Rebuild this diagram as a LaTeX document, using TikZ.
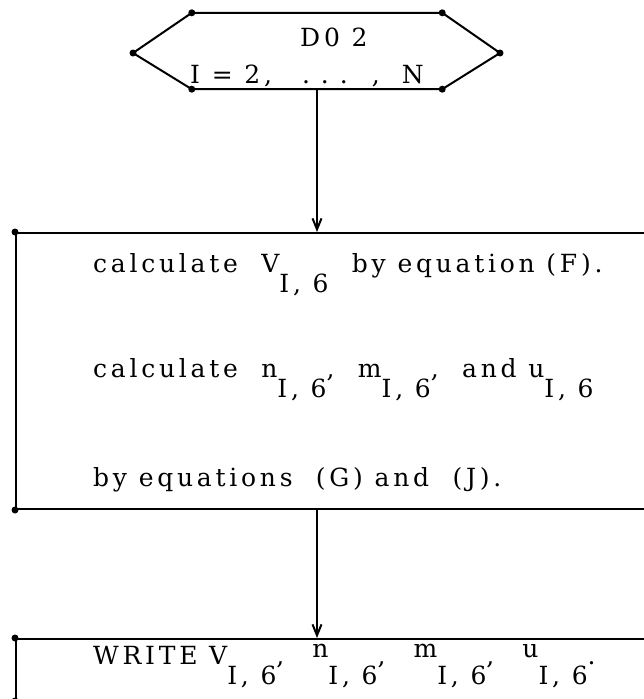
\documentclass[tikz,border=0pt]{standalone}
\usepackage{fontspec}
\setmainfont{DejaVu Serif}[LetterSpace=15]
\usetikzlibrary{arrows.meta,positioning,calc}

\newcommand{\sub}[1]{\raisebox{-0.8em}{#1}}
\newcommand{\up}[1]{\raisebox{0.25em}{#1}}

\begin{document}
\begin{tikzpicture}[x=1pt, y=-1pt,
  font=\fontsize{25}{30}\selectfont,
  ln/.style={line width=2pt},
  box/.style={draw, ln, anchor=north west, inner sep=0pt, minimum width=700},
  ar/.style={ln, -{Straight Barb[length=11pt, width=9pt]}},
  dot/.style={circle, fill, inner sep=0pt, minimum size=7pt},
  txt/.style={anchor=base west, inner sep=0pt}
]
\useasboundingbox (0,0) rectangle (644,699);
\clip (0,0) rectangle (644,699);
% loop header
\node[minimum width=250, minimum height=76, inner sep=0pt] (do) at (317,51) {};
\coordinate (dl) at (133,53);
\coordinate (dr) at (500,53);
\draw[ln] (do.north west) -- (do.north east) -- (dr) -- (do.south east)
  -- (do.south west) -- (dl) -- cycle;
\foreach \c in {do.north west, do.north east, dr, do.south east, do.south west, dl}
  \node[dot] at (\c) {};
\node[txt] (do1) at (300,46) {D0 2};
\node[txt] (do2) at (190,83) {I = 2,\hspace{30pt}.\hspace{11pt}.\hspace{11pt}.\hspace{24pt},\hspace{22pt}N};
% calculation box
\node[box, minimum height=276] (calc) at (15,232) {};
\node[dot] at (calc.north west) {};
\node[dot] at (calc.south west) {};
\node[txt] (c1) at (93,272) {calculate \ V\sub{I, 6} \ by equation (F).};
\node[txt] (c2) at (93,377) {calculate \ n\sub{I, 6}, \ m\sub{I, 6}, \ and u\sub{I, 6}};
\node[txt] (c3) at (93,486) {by equations \ (G) and \ (J).};
% output box
\node[box, minimum height=61] (wr) at (15,638) {};
\node[dot] at (wr.north west) {};
\node[dot] at (wr.south west) {};
\node[txt] (w1) at (93,664) {WRITE V\sub{I, 6},\hspace{28pt}\up{n}\sub{I, 6},\hspace{28pt}\up{m}\sub{I, 6},\hspace{28pt}\up{u}\sub{I, 6}.};
% flow
\draw[ar] (do.south) -- (do.south |- calc.north);
\draw[ar] (do.south |- calc.south) -- (do.south |- wr.north);
\end{tikzpicture}
\end{document}
